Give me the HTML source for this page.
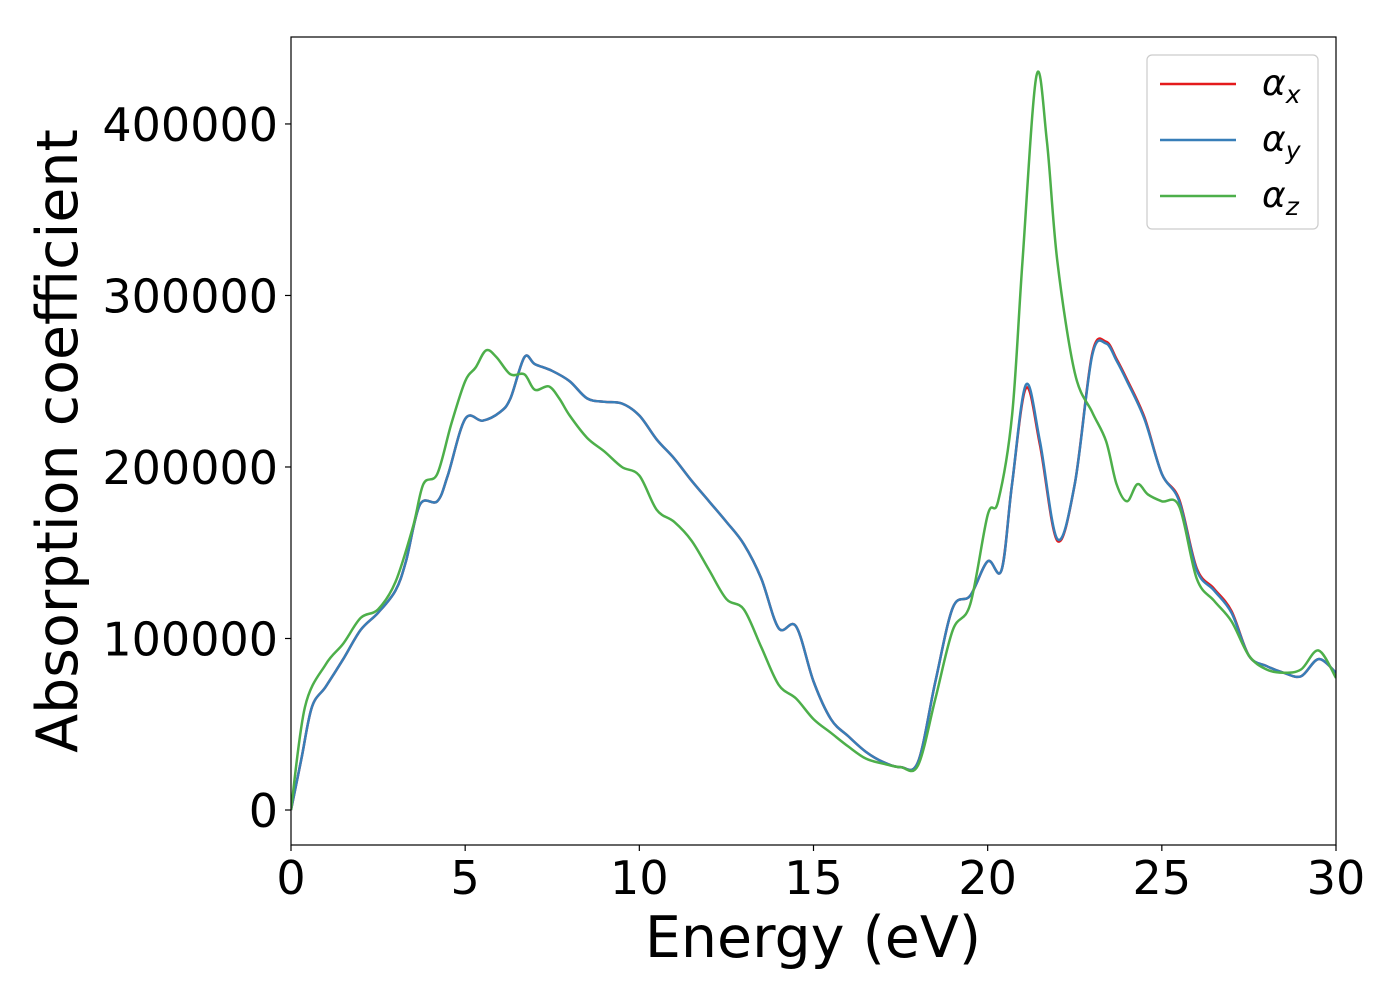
<!DOCTYPE html>
<html><head><meta charset="utf-8"><style>
body{margin:0;background:#fff;}
svg text{font-family:"DejaVu Sans","Liberation Sans",sans-serif;fill:#000;}
</style></head><body>
<svg id="chart" width="1400" height="1000" xmlns="http://www.w3.org/2000/svg">
<rect width="1400" height="1000" fill="#fff"/>
<g id="plot"></g>
</svg>
<script>
const energyB=[0,0.3,0.6,1,1.5,2,2.5,3,3.3,3.7,4.2,4.5,5,5.5,6,6.3,6.7,7,7.5,8,8.5,9,9.5,10,10.5,11,11.5,12,12.5,13,13.5,14,14.5,15,15.5,16,16.5,17,17.5,18,18.5,19,19.5,20,20.4,20.7,21.1,21.5,22,22.5,23,23.4,23.7,24,24.5,25,25.5,26,26.5,27,27.5,28,28.5,29,29.5,30];
const alphaX=[0,30000,60000,72000,88000,105000,115000,128000,145000,178000,180000,195000,228000,227000,232000,240000,264000,260000,256000,250000,240000,238000,237000,230000,216000,205000,192000,180000,168000,155000,135000,106000,107000,75000,53000,43000,34000,28000,25000,28000,75000,118000,125000,145000,140000,190000,246000,213000,157000,190000,266000,273000,263000,251000,229000,196000,181000,141000,129000,116000,90000,84000,80000,78000,88000,80000];
const alphaY=[0,30000,60000,72000,88000,105000,115000,128000,145000,178000,180000,195000,228000,227000,232000,240000,264000,260000,256000,250000,240000,238000,237000,230000,216000,205000,192000,180000,168000,155000,135000,106000,107000,75000,53000,43000,34000,28000,25000,28000,75000,118000,125000,145000,140000,190000,248000,215000,158000,190000,265000,272000,262000,250000,228000,196000,180000,140000,128000,115000,90000,84000,80000,78000,88000,80000];
const energyZ=[0,0.4,1,1.5,2,2.5,3,3.5,3.8,4.2,4.6,5,5.3,5.6,5.9,6.3,6.7,7,7.4,7.7,8,8.5,9,9.5,10,10.5,11,11.5,12,12.5,13,13.5,14,14.5,15,15.5,16,16.5,17,17.5,18,18.5,19,19.5,20,20.3,20.7,21,21.4,21.7,22,22.5,23,23.4,23.7,24,24.3,24.6,25,25.5,26,26.5,27,27.5,28,28.5,29,29.5,30];
const alphaZ=[0,60000,85000,97000,112000,117000,133000,165000,190000,196000,225000,250000,258000,268000,264000,254000,254000,245000,247000,240000,230000,217000,209000,200000,195000,175000,168000,157000,140000,123000,117000,95000,73000,65000,53000,45000,37000,30000,27000,25000,26000,65000,105000,120000,172000,180000,230000,320000,428000,390000,320000,255000,232000,215000,190000,180000,190000,184000,180000,177000,135000,122000,110000,90000,82000,80000,82000,93000,77000];
const xTicks=[0,5,10,15,20,25,30];
const yTicks=[0,100000,200000,300000,400000];
const L=291,R=1336,T=37,B=845;
const xMin=0,xMax=30,yMin=-20400,yMax=450700;
const sx=v=>L+(v-xMin)/(xMax-xMin)*(R-L);
const sy=v=>B-(v-yMin)/(yMax-yMin)*(B-T);
const NS="http://www.w3.org/2000/svg";
const g=document.getElementById('plot');
function mk(tag,attrs,parent){const e=document.createElementNS(NS,tag);for(const k in attrs)e.setAttribute(k,attrs[k]);(parent||g).appendChild(e);return e;}
function pathD(xs,ys){const p=xs.map((x,i)=>[sx(x),sy(ys[i])]);let d=`M${p[0][0]},${p[0][1]}`;
for(let i=0;i<p.length-1;i++){const p0=p[Math.max(0,i-1)],p1=p[i],p2=p[i+1],p3=p[Math.min(p.length-1,i+2)];
d+=` C${p1[0]+(p2[0]-p0[0])/6},${p1[1]+(p2[1]-p0[1])/6} ${p2[0]-(p3[0]-p1[0])/6},${p2[1]-(p3[1]-p1[1])/6} ${p2[0]},${p2[1]}`;}return d;}
const clip=mk('clipPath',{id:'c'});mk('rect',{x:L,y:T,width:R-L,height:B-T},clip);
const series=[[energyB,alphaX,'#e41a1c','series-alpha-x'],[energyB,alphaY,'#377eb8','series-alpha-y'],[energyZ,alphaZ,'#4daf4a','series-alpha-z']];
series.forEach(s=>{const e=mk('path',{d:pathD(s[0],s[1]),fill:'none',stroke:s[2],'stroke-width':2.5,'clip-path':'url(#c)'});

});
const frame=mk('rect',{x:L,y:T,width:R-L,height:B-T,fill:'none',stroke:'#000','stroke-width':1.2});


xTicks.forEach(t=>{mk('line',{x1:sx(t),x2:sx(t),y1:B,y2:B+6,stroke:'#000','stroke-width':1.2});
const tx=mk('text',{x:sx(t),y:B+49,'font-size':46,'text-anchor':'middle'});tx.textContent=t;

});
yTicks.forEach(t=>{mk('line',{x1:L-6,x2:L,y1:sy(t),y2:sy(t),stroke:'#000','stroke-width':1.2});
const tx=mk('text',{x:L-13,y:sy(t)+17,'font-size':46,'text-anchor':'end'});tx.textContent=t;

});
const xl=mk('text',{x:813,y:957,'font-size':57,'text-anchor':'middle'});xl.textContent='Energy (eV)';


const yl=mk('text',{x:0,y:0,'font-size':57,'text-anchor':'middle',transform:'translate(77,441) rotate(-90)'});yl.textContent='Absorption coefficient';


const lg=mk('g',{});


mk('rect',{x:1147,y:55,width:171,height:174,rx:5,fill:'#fff',stroke:'#ccc','stroke-width':1.2},lg);
const subs=['x','y','z'];
series.forEach((s,i)=>{const y=84+i*56;
mk('line',{x1:1160,x2:1236,y1:y,y2:y,stroke:s[2],'stroke-width':2.5},lg);
const t=mk('text',{x:1262,y:y+11,'font-size':36,'font-style':'italic'},lg);
t.innerHTML='α<tspan font-size="25" dy="8">'+subs[i]+'</tspan>';

});
</script>
</body></html>
